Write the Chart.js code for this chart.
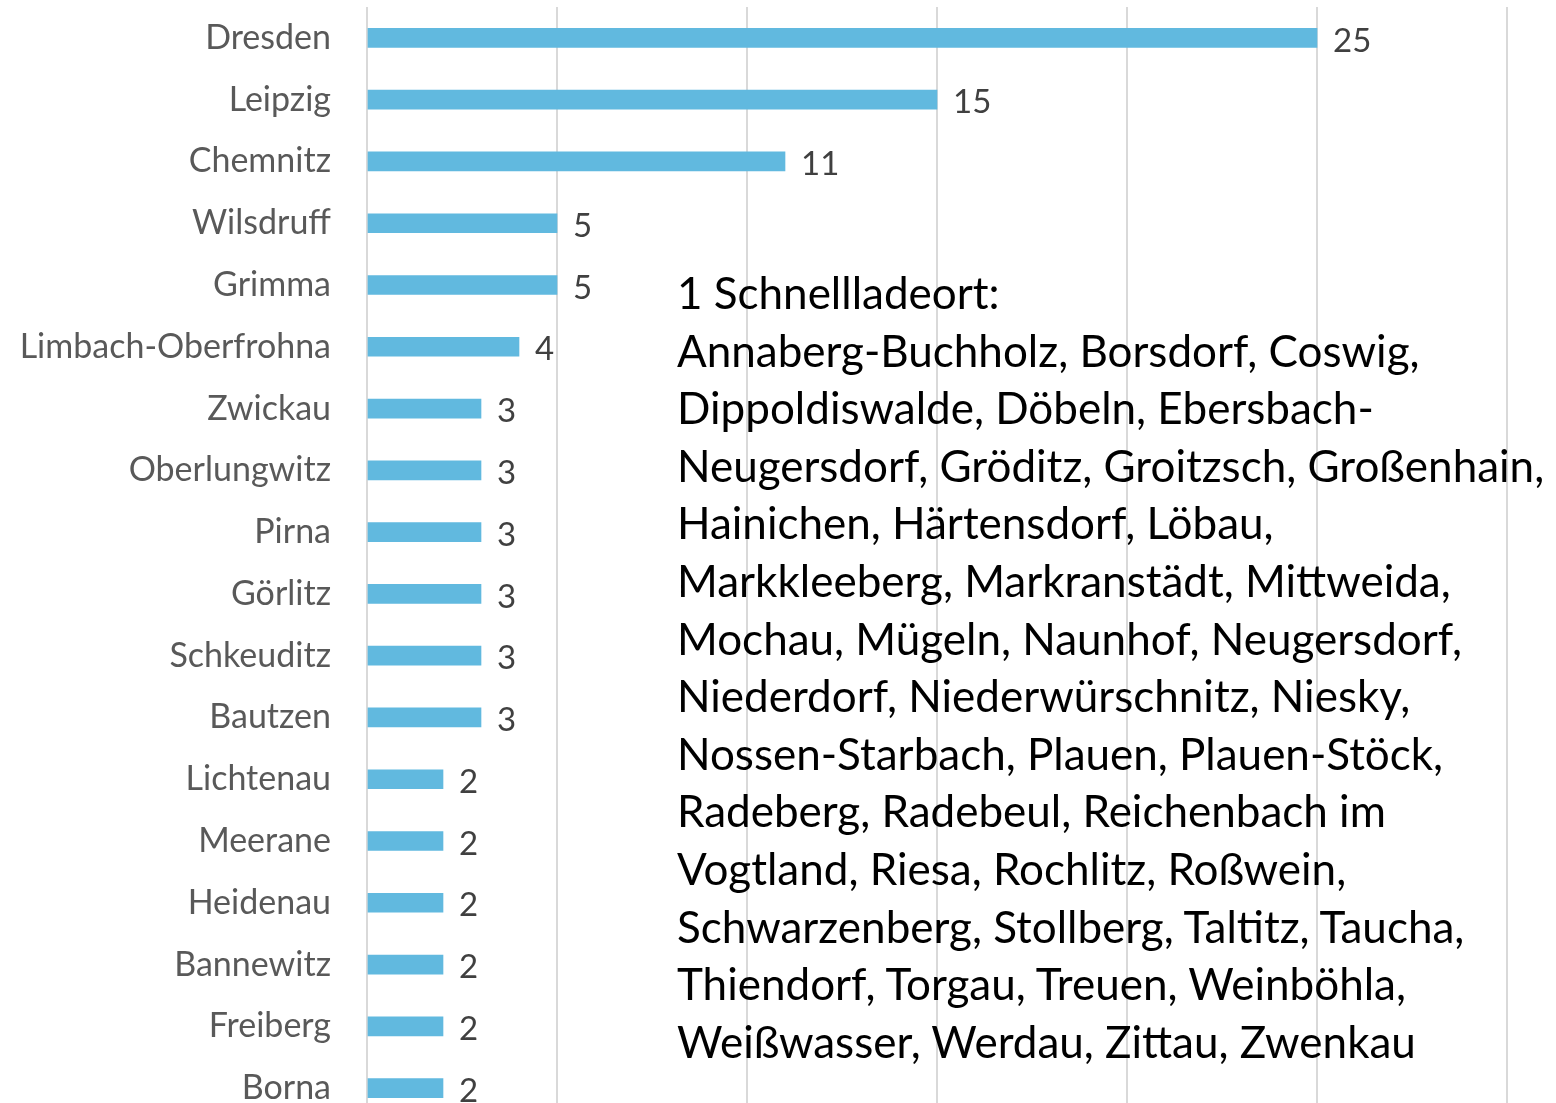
<!DOCTYPE html>
<html>
<head>
<meta charset="utf-8">
<script src="https://cdn.jsdelivr.net/npm/chart.js@4"></script>
<style>
  html, body { margin: 0; padding: 0; background: #fff; overflow: hidden; }
  #wrap { position: relative; width: 1556px; height: 1126px; }
  #note {
    position: absolute; left: 677px; top: 264px;
    font-family: Lato, "Open Sans", sans-serif; font-size: 44px; line-height: 57.6px;
    color: #000; white-space: nowrap;
  }
</style>
</head>
<body>
<div id="wrap">
  <canvas id="myChart" width="1556" height="1126"></canvas>
  <div id="note"></div>
</div>
<script>
// chart data
const cities = ['Dresden', 'Leipzig', 'Chemnitz', 'Wilsdruff', 'Grimma', 'Limbach-Oberfrohna', 'Zwickau',
    'Oberlungwitz', 'Pirna', 'Görlitz', 'Schkeuditz', 'Bautzen', 'Lichtenau', 'Meerane', 'Heidenau',
    'Bannewitz', 'Freiberg', 'Borna'];
const stations = [25, 15, 11, 5, 5, 4, 3, 3, 3, 3, 3, 3, 2, 2, 2, 2, 2, 2];
const xTicks = [0, 5, 10, 15, 20, 25, 30];

// text box: cities with a single fast charging location
const noteTitle = '1 Schnellladeort:';
const noteLines = [
    'Annaberg-Buchholz, Borsdorf, Coswig,',
    'Dippoldiswalde, Döbeln, Ebersbach-',
    'Neugersdorf, Gröditz, Groitzsch, Großenhain,',
    'Hainichen, Härtensdorf, Löbau,',
    'Markkleeberg, Markranstädt, Mittweida,',
    'Mochau, Mügeln, Naunhof, Neugersdorf,',
    'Niederdorf, Niederwürschnitz, Niesky,',
    'Nossen-Starbach, Plauen, Plauen-Stöck,',
    'Radeberg, Radebeul, Reichenbach im',
    'Vogtland, Riesa, Rochlitz, Roßwein,',
    'Schwarzenberg, Stollberg, Taltitz, Taucha,',
    'Thiendorf, Torgau, Treuen, Weinböhla,',
    'Weißwasser, Werdau, Zittau, Zwenkau'
];

const note = document.getElementById('note');
[noteTitle].concat(noteLines).forEach(line => {
    const d = document.createElement('div');
    d.textContent = line;
    note.appendChild(d);
});

const FONT = 'Lato, "Open Sans", sans-serif';

// value labels at the end of each bar
const valueLabels = {
    id: 'valueLabels',
    afterDatasetsDraw(chart) {
        const c = chart.ctx;
        const meta = chart.getDatasetMeta(0);
        c.save();
        c.font = '33px ' + FONT;
        c.fillStyle = '#404040';
        c.textAlign = 'left';
        c.textBaseline = 'middle';
        meta.data.forEach((bar, i) => {
            c.fillText(String(stations[i]), bar.x + 16, bar.y + 3);
        });
        c.restore();
    }
};

const ctx = document.getElementById('myChart').getContext('2d');
new Chart(ctx, {
    type: 'bar',
    data: {
        labels: cities,
        datasets: [{
            data: stations,
            backgroundColor: '#61b9df',
            borderWidth: 0,
            barThickness: 19
        }]
    },
    options: {
        indexAxis: 'y',
        responsive: false,
        animation: false,
        layout: { padding: { top: 7, right: 49, bottom: 7, left: 0 } },
        plugins: { legend: { display: false }, tooltip: { enabled: false } },
        scales: {
            x: {
                min: 0, max: 30,
                afterBuildTicks: (axis) => { axis.ticks = xTicks.map(v => ({ value: v })); },
                ticks: { display: false },
                grid: { color: '#d9d9d9', lineWidth: 2, drawTicks: false },
                border: { display: false }
            },
            y: {
                afterFit: (axis) => {
                    axis.width = 367;
                    axis.paddingTop = 0;
                    axis.paddingBottom = 0;
                },
                ticks: { color: '#595959', font: { family: FONT, size: 34 }, padding: 36 },
                grid: { display: false, drawTicks: false },
                border: { display: false }
            }
        }
    },
    plugins: [valueLabels]
});
</script>
</body>
</html>
